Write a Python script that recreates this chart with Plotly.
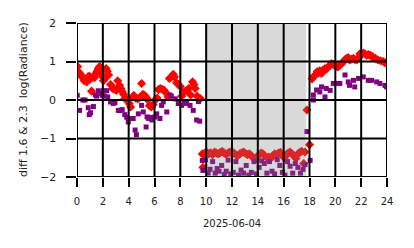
import plotly.graph_objects as go

# ---- data (hours of day, log radiance differences) ----
red_t = [0.05, 0.15, 0.25, 0.35, 0.45, 0.55, 0.65, 0.75, 0.85, 0.95, 1.05, 1.13, 1.25, 1.35, 1.45, 1.55,
         1.65, 1.75, 1.85, 1.95, 2.05, 2.15, 2.25, 2.35, 2.45, 2.6, 2.75, 2.9, 3.05, 3.15, 3.3, 3.4, 3.5,
         3.6, 3.7, 3.85, 3.95, 4.05, 4.15, 4.3, 4.4, 4.55, 4.7, 4.85, 5.0, 5.1, 5.25, 5.4, 5.5, 5.6, 5.75,
         5.9, 6.05, 6.2, 6.3, 6.45, 6.6, 6.75, 6.9, 7.05, 7.15, 7.3, 7.45, 7.55, 7.7, 7.85, 8.0, 8.1, 8.2,
         8.35, 8.5, 8.65, 8.8, 8.95, 9.05, 9.15, 9.3, 9.45, 9.55,
         9.7, 9.75, 9.9, 10.05, 10.2, 10.35, 10.5, 10.65, 10.8, 10.95, 11.1, 11.25, 11.4, 11.55, 11.7,
         11.85, 12.0, 12.15, 12.3, 12.45, 12.6, 12.75, 12.9, 13.05, 13.2, 13.35, 13.5, 13.65, 13.8, 13.95,
         14.1, 14.25, 14.4, 14.55, 14.7, 14.85, 15.0, 15.15, 15.3, 15.45, 15.6, 15.75, 15.9, 16.05, 16.2,
         16.35, 16.5, 16.65, 16.8, 16.95, 17.1, 17.25, 17.4, 17.55, 17.65, 17.8, 18.0,
         18.2, 18.3, 18.45, 18.6, 18.7, 18.8, 18.93, 19.05, 19.2, 19.3, 19.45, 19.6, 19.7, 19.85, 19.97,
         20.1, 20.2, 20.35, 20.5, 20.65, 20.75, 20.88, 21.0, 21.1, 21.25, 21.4, 21.5, 21.65, 21.8, 21.9,
         22.05, 22.16, 22.3, 22.42, 22.55, 22.7, 22.8, 22.9, 23.1, 23.3, 23.5, 23.7, 23.85, 23.97]
red_v = [0.87, 0.72, 0.68, 0.62, 0.58, 0.5, 0.55, 0.47, 0.6, 0.62, 0.55, 0.23, 0.6, 0.58, 0.68, 0.75,
         0.82, 0.87, 0.7, 0.62, 0.5, 0.55, 0.82, 0.75, 0.65, 0.4, 0.3, 0.28, 0.25, 0.5, 0.38, 0.3, 0.22,
         0.15, 0.04, 0.02, 0.0, -0.1, -0.18, 0.08, 0.12, 0.05, 0.03, 0.06, 0.43, 0.15, 0.12, 0.05, 0.0,
         -0.15, -0.18, -0.12, 0.0, 0.05, 0.27, 0.3, 0.28, 0.25, 0.18, 0.08, 0.56, 0.6, 0.67, 0.6, 0.45,
         0.4, 0.35, 0.1, 0.2, 0.22, 0.25, 0.3, 0.13, 0.47, 0.4, 0.3, 0.1, 0.0, 0.04,
         -1.4, -1.75, -1.38, -1.36, -1.4, -1.37, -1.42, -1.35, -1.38, -1.4, -1.36, -1.33, -1.38, -1.41,
         -1.37, -1.35, -1.4, -1.38, -1.42, -1.45, -1.4, -1.37, -1.35, -1.39, -1.42, -1.4, -1.45, -1.5,
         -1.55, -1.47, -1.42, -1.38, -1.4, -1.45, -1.5, -1.48, -1.52, -1.45, -1.4, -1.42, -1.38, -1.36,
         -1.44, -1.5, -1.42, -1.38, -1.35, -1.4, -1.45, -1.52, -1.4, -1.36, -1.33, -1.65, -1.35, -0.26,
         -1.16,
         0.55, 0.6, 0.65, 0.74, 0.7, 0.76, 0.69, 0.78, 0.82, 0.8, 0.86, 0.9, 0.95, 0.92, 0.9, 0.88, 0.86,
         0.9, 0.95, 1.0, 1.05, 1.08, 1.1, 1.04, 1.06, 1.08, 1.05, 1.04, 1.1, 1.2, 1.18, 1.22, 1.2, 1.16,
         1.18, 1.16, 1.14, 1.12, 1.08, 1.04, 1.02, 1.0, 0.97, 0.95]

pur_t = [0.02, 0.2, 0.45, 0.62, 0.87, 0.95, 1.05, 1.27, 1.42, 1.52, 1.65, 1.86, 1.95, 2.04, 2.12, 2.3,
         2.38, 2.6, 2.8, 2.94, 3.2, 3.35, 3.5, 3.7, 3.85, 3.97, 4.23, 4.35, 4.5, 4.6, 4.75, 5.0, 5.13,
         5.35, 5.42, 5.55, 5.7, 5.8, 6.04, 6.17, 6.42, 6.55, 6.68, 6.95, 7.2, 7.3, 7.6, 7.84, 8.1, 8.3,
         8.48, 8.75, 9.0, 9.26, 9.4, 9.5,
         9.7, 9.75, 9.95, 10.15, 10.3, 10.5, 10.7, 10.85, 11.0, 11.2, 11.4, 11.55, 11.7, 11.9, 12.1, 12.3,
         12.5, 12.7, 12.9, 13.1, 13.3, 13.5, 13.7, 13.9, 14.1, 14.3, 14.5, 14.7, 14.9, 15.1, 15.3, 15.5,
         15.7, 15.9, 16.1, 16.3, 16.5, 16.7, 16.9, 17.1, 17.3, 17.5, 17.65, 17.8, 18.05,
         18.3, 18.3, 18.55, 18.8, 18.93, 19.2, 19.3, 19.6, 19.84, 20.1, 20.35, 20.75, 21.0, 21.1, 21.4,
         21.5, 21.8, 22.16, 22.55, 22.8, 23.2, 23.45, 23.84, 23.97]
pur_v = [0.12, -0.27, 0.0, 0.0, -0.2, -0.38, -0.33, -0.17, 0.13, 0.1, 0.24, 0.17, 0.12, 0.24, 0.1, 0.24,
         0.08, -0.05, -0.09, -0.07, -0.27, -0.27, -0.25, -0.38, -0.45, -0.57, -0.48, -0.48, -0.78, -0.9,
         -0.36, -0.14, -0.31, -0.7, -0.44, -0.48, -0.45, -0.52, -0.44, -0.36, -0.48, -0.14, -0.05, -0.31,
         0.13, 0.1, 0.03, -0.09, -0.14, -0.05, -0.09, -0.14, -0.27, -0.52, -0.04, -0.55,
         -1.57, -1.83, -1.55, -1.9, -1.8, -1.6, -1.9, -1.78, -1.85, -1.7, -1.93, -1.85, -1.56, -1.92,
         -1.88, -1.6, -1.95, -1.82, -1.9, -1.7, -1.95, -1.88, -1.6, -1.92, -1.75, -1.58, -1.65, -1.9,
         -1.6, -1.85, -1.92, -1.55, -1.7, -1.88, -1.95, -1.6, -1.72, -1.9, -1.65, -1.75, -1.9, -1.8,
         -1.68, -0.82, -1.57,
         0.0, 0.13, 0.26, 0.21, 0.34, 0.08, 0.3, 0.25, 0.43, 0.43, 0.43, 0.65, 0.47, 0.38, 0.51, 0.34,
         0.56, 0.6, 0.51, 0.51, 0.47, 0.43, 0.38, 0.34]

x_ticks = list(range(0, 25, 2))
y_ticks = [-2, -1, 0, 1, 2]
y_ticktext = ["\u22122", "\u22121", "0", "1", "2"]
shade = [10, 17.75]
x_title = "2025-06-04"
y_title = "diff 1.6 & 2.3  log(Radiance)"

fig = go.Figure()
fig.add_trace(go.Scatter(x=red_t, y=red_v, mode="markers",
                         marker=dict(symbol="diamond", size=7, color="red", line=dict(width=0)),
                         showlegend=False))
fig.add_trace(go.Scatter(x=pur_t, y=pur_v, mode="markers",
                         marker=dict(symbol="square", size=5, color="purple", line=dict(width=0)),
                         showlegend=False))

fig.add_shape(type="rect", x0=shade[0], x1=shade[1], y0=0, y1=1, yref="paper", xref="x",
              fillcolor="grey", opacity=0.3, line=dict(width=0), layer="above")
for v in x_ticks:
    fig.add_shape(type="line", x0=v, x1=v, y0=0, y1=1, xref="x", yref="paper",
                  line=dict(color="black", width=2), layer="above")
for v in y_ticks:
    fig.add_shape(type="line", x0=0, x1=1, y0=v, y1=v, xref="paper", yref="y",
                  line=dict(color="black", width=2), layer="above")

fig.update_xaxes(range=[0, 24], tickvals=x_ticks, ticks="outside", ticklen=9, tickwidth=2,
                 tickcolor="black", showgrid=False, zeroline=False, showline=False,
                 tickfont=dict(size=10, color="#222"), ticklabelstandoff=6)
fig.update_yaxes(range=[-2, 2], tickvals=y_ticks, showticklabels=False,
                 ticks="outside", ticklen=10, tickwidth=2,
                 tickcolor="black", showgrid=False, zeroline=False, showline=False)

plot_w, plot_h = 414 - 77 - 27, 248 - 23 - 71
# y tick labels placed next to the ticks
for v, t in zip(y_ticks, y_ticktext):
    fig.add_annotation(text=t, xref="paper", yref="y", x=-19 / plot_w, y=v,
                       xanchor="right", yanchor="middle", showarrow=False,
                       font=dict(size=11, color="#222"))

# axis titles
fig.add_annotation(text=x_title, xref="paper", yref="paper", x=0.5, y=-46 / plot_h,
                   xanchor="center", yanchor="middle", showarrow=False,
                   font=dict(size=10, color="#222"))
fig.add_annotation(text=y_title, xref="paper", yref="paper", x=-54 / plot_w, y=0.5,
                   xanchor="center", yanchor="middle", textangle=-90, showarrow=False,
                   font=dict(size=11, color="#222"))

fig.update_layout(width=414, height=248, margin=dict(l=77, r=27, t=23, b=71),
                  plot_bgcolor="white", paper_bgcolor="white",
                  font=dict(family="DejaVu Sans"))
fig.write_html("out.html")
